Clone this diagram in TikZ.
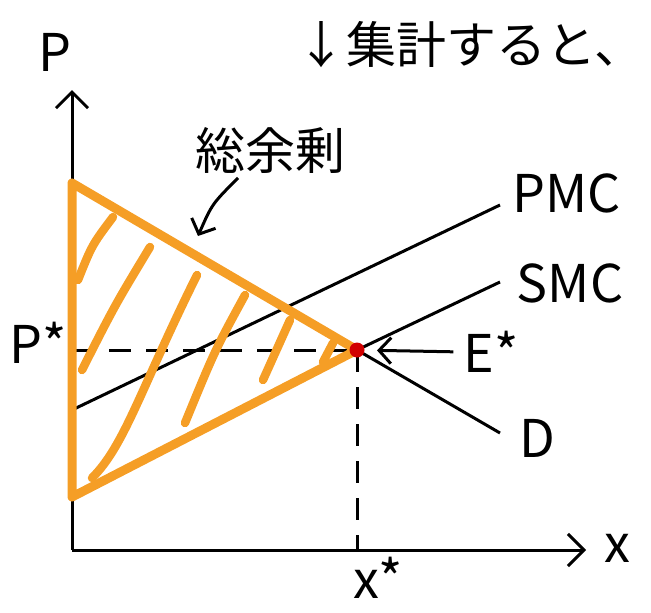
\documentclass[tikz,border=0pt]{standalone}
\usepackage{fontspec}
\setmainfont{Noto Sans CJK JP}
\usetikzlibrary{arrows.meta}
\definecolor{surplusorange}{RGB}{245,158,38}
\definecolor{eqred}{RGB}{210,0,0}
\begin{document}
\begin{tikzpicture}[x=1pt, y=-1pt,
        axis/.style = {line width=3pt, -{Straight Barb[length=16pt, width=32pt, line width=3pt]}},
        pointer/.style = {line width=3pt, -{Straight Barb[length=12pt, width=26pt, line width=3pt]}},
        curve/.style = {line width=3pt},
        guide/.style = {line width=3pt, dash pattern=on 22pt off 15pt},
        surplus/.style = {line width=9pt, draw=surplusorange, line join=round, line cap=round},
        hatch/.style = {line width=8.5pt, draw=surplusorange, line cap=round},
        lbl/.style = {font=\fontsize{52}{56}\selectfont, inner sep=0pt},
        jp/.style = {font=\fontsize{50}{54}\selectfont, inner sep=0pt}
    ]
    \useasboundingbox (0,0) rectangle (651,613);
    % ================= AXES =================
    \coordinate (O) at (72,550);
    \coordinate (ytop) at (72,90);
    \coordinate (xend) at (586,550);
    \draw[axis] (O) -- (ytop);
    \draw[axis] (O) -- (xend);
    \node[lbl] (plbl) at (55,52) {P};
    \node[lbl] (xlbl) at (617,548) {x};
    %
    % ================= CURVES =================
    \coordinate (E) at (357,350);
    \coordinate (top) at (72,183);
    \coordinate (bot) at (72,497);
    \coordinate (pmcA) at (72,410);
    \coordinate (pmcB) at (500,205);
    \coordinate (smcB) at (500,282);
    \coordinate (dB) at (500,433);
    \draw[curve] (pmcA) -- (pmcB);
    \draw[curve] (bot) -- (E) -- (smcB);
    \draw[curve] (top) -- (E) -- (dB);
    \node[lbl] (pmc) at (567,193) {PMC};
    \node[lbl] (smc) at (570,283) {SMC};
    \node[lbl] (d) at (537,438) {D};
    %
    % guides
    \coordinate (pstar) at (72,350);
    \coordinate (xstar) at (357,550);
    \draw[guide] (pstar) -- (E);
    \draw[guide] (E) -- (xstar);
    \node[lbl] (pslbl) at (38,343) {P*};
    \node[lbl] (xslbl) at (378,578) {x*};

    % ================= SURPLUS =================
    \draw[surplus] (top) -- (E) -- (bot) -- cycle;
    \draw[hatch] (113,217) .. controls (92,245) .. (78,280);
    \draw[hatch] (150,247) .. controls (115,305) .. (82,370);
    \draw[hatch] (197,275) .. controls (140,390) and (125,445) .. (92,478);
    \draw[hatch] (245,295) .. controls (215,350) .. (185,423);
    \draw[hatch] (290,320) -- (263,380);
    \draw[hatch] (333,343) -- (323,362);
    \fill[eqred] (E) circle (7.5pt);
    %
    \node[jp] (surpluslbl) at (270,150) {総余剰};
    \coordinate (surplusTo) at (198,236);
    \draw[pointer] ([xshift=-32pt, yshift=-28pt]surpluslbl.center) .. controls (212,204) .. (surplusTo);
    %
    \node[lbl] (estar) at (491,352) {E*};
    \draw[pointer, shorten >=20pt, shorten <=10pt] (estar.west) -- (E);
    %
    \node[jp] (note) at (470,45) {↓集計すると、};
    \end{tikzpicture}
\end{document}
